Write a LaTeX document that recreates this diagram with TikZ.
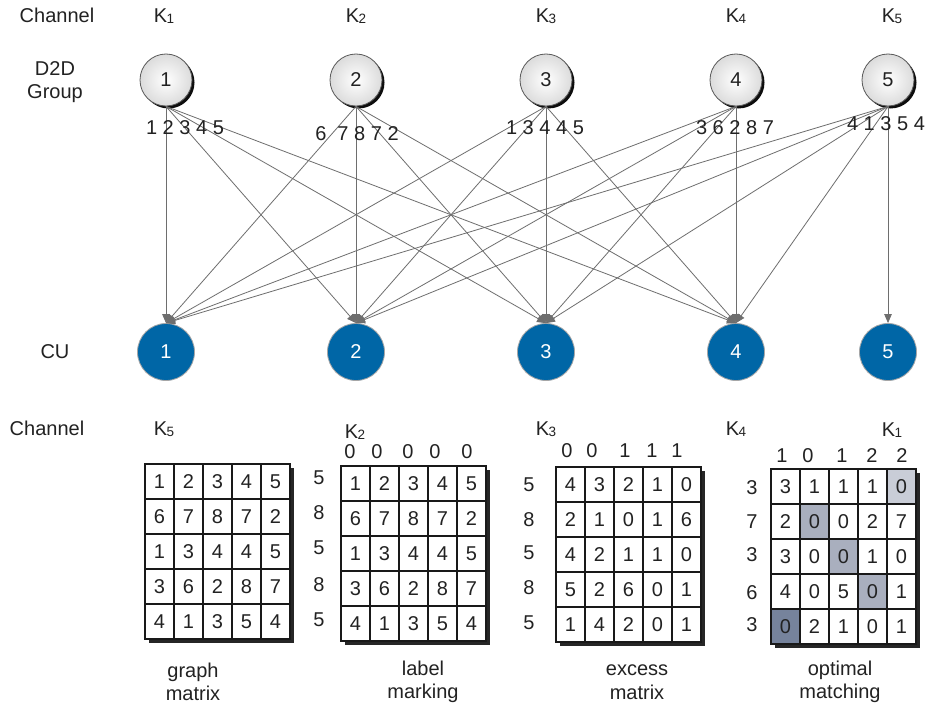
\documentclass[tikz,border=0pt]{standalone}
\usepackage{fontspec}
\setmainfont{Liberation Sans}
\usetikzlibrary{arrows.meta,shadows}
\definecolor{txt}{HTML}{222222}
\definecolor{cublue}{HTML}{0066A6}
\definecolor{edgegray}{HTML}{6E6E6E}
\definecolor{sa}{HTML}{C9CDD7}
\definecolor{sb}{HTML}{A9AFBE}
\definecolor{sc}{HTML}{76839C}
\colorlet{w}{white}
\newcommand{\mainfs}{\fontsize{20}{23.5}\selectfont}
\newcommand{\Kch}[1]{K\kern-0.5pt\raisebox{-1.5pt}{\fontsize{13.5}{13.5}\selectfont #1}}
\newcommand{\cellmatrix}[4]{%
  \fill[black!85] (#2+4,#3+4) rectangle (#2+149,#3+179);
  \foreach \row [count=\r] in {#4} {
    \foreach \v/\f [count=\c] in \row {
      \node[cell, fill=\f] (#1-\r-\c) at ({#2+(\c-0.5)*29},{#3+(\r-0.5)*35}) {\v};
    }
  }
}
\tikzset{
  lab/.style={font=\mainfs, text=txt, inner sep=0pt, align=center},
  d2d/.style={circle, minimum size=52pt, inner sep=0pt, draw=black!65, line width=0.8pt,
    inner color=white, outer color=black!14,
    drop shadow={shadow xshift=2.5pt, shadow yshift=-2.5pt, fill=black, opacity=0.95},
    font=\mainfs, text=txt},
  cu/.style={circle, minimum size=57pt, inner sep=0pt, fill=cublue, draw=black!35,
    line width=0.8pt, font=\mainfs, text=white},
  link/.style={draw=edgegray, line width=0.8pt, -{Triangle[length=9pt,width=7.5pt]}},
  cell/.style={draw=black!90, line width=1.2pt, minimum width=29pt, minimum height=35pt,
    inner sep=0pt, font=\mainfs, text=txt},
}
\begin{document}
\begin{tikzpicture}[x=1pt,y=-1pt]
\fill[white] (0,0) rectangle (929,709);
\useasboundingbox (0,0) rectangle (929,709);

% top labels
\node[lab] (ch1) at (57,15) {Channel};
\node[lab] (kt1) at (164,16) {\Kch{1}};
\node[lab] (kt2) at (356,16) {\Kch{2}};
\node[lab] (kt3) at (546,16) {\Kch{3}};
\node[lab] (kt4) at (736,16) {\Kch{4}};
\node[lab] (kt5) at (892,16) {\Kch{5}};
\node[lab] (dg) at (55,82) {D2D\\Group};
\node[lab] (cul) at (55,352) {CU};

% D2D nodes
\node[d2d] (d1) at (166,80) {1};
\node[d2d] (d2) at (356,80) {2};
\node[d2d] (d3) at (546,80) {3};
\node[d2d] (d4) at (736,80) {4};
\node[d2d] (d5) at (888,80) {5};

% CU nodes
\node[cu] (c1) at (166,352) {1};
\node[cu] (c2) at (356,352) {2};
\node[cu] (c3) at (546,352) {3};
\node[cu] (c4) at (736,352) {4};
\node[cu] (c5) at (888,352) {5};

% links
\foreach \i in {1,...,4}{
  \foreach \j in {1,...,4}{
    \draw[link] (d\i.south) -- (c\j.north);
  }
}
\foreach \j in {1,...,5}{
  \draw[link] (d5.south) -- (c\j.north);
}

% weight labels
\node[lab] (n1) at (185,128) {1 2 3 4 5};
\node[lab] (n2) at (357,134) {6\hspace{11pt}7 8 7 2};
\node[lab] (n3) at (545,128) {1 3 4 4 5};
\node[lab] (n4) at (735,128) {3 6 2 8 7};
\node[lab] (n5) at (886,124) {4 1 3 5 4};

% bottom labels
\node[lab] (ch2) at (47,428) {Channel};
\node[lab] (kb1) at (164,429) {\Kch{5}};
\node[lab] (kb2) at (355,432) {\Kch{2}};
\node[lab] (kb3) at (546,429) {\Kch{3}};
\node[lab] (kb4) at (736,429) {\Kch{4}};
\node[lab] (kb5) at (892,430) {\Kch{1}};

% matrices
\cellmatrix{g}{145}{464}{{1/w,2/w,3/w,4/w,5/w},{6/w,7/w,8/w,7/w,2/w},{1/w,3/w,4/w,4/w,5/w},{3/w,6/w,2/w,8/w,7/w},{4/w,1/w,3/w,5/w,4/w}}
\cellmatrix{l}{341}{466}{{1/w,2/w,3/w,4/w,5/w},{6/w,7/w,8/w,7/w,2/w},{1/w,3/w,4/w,4/w,5/w},{3/w,6/w,2/w,8/w,7/w},{4/w,1/w,3/w,5/w,4/w}}
\cellmatrix{e}{556}{467}{{4/w,3/w,2/w,1/w,0/w},{2/w,1/w,0/w,1/w,6/w},{4/w,2/w,1/w,1/w,0/w},{5/w,2/w,6/w,0/w,1/w},{1/w,4/w,2/w,0/w,1/w}}
\cellmatrix{o}{771}{469}{{3/w,1/w,1/w,1/w,0/sa},{2/w,0/sb,0/w,2/w,7/w},{3/w,0/w,0/sb,1/w,0/w},{4/w,0/w,5/w,0/sb,1/w},{0/sc,2/w,1/w,0/w,1/w}}

% label marking top/left
\foreach \x/\t [count=\k] in {350/0,377/0,408/0,435/0,467/0}
  \node[lab] (lt\k) at (\x,452) {\t};
\foreach \y/\t [count=\k] in {478/5,513/8,548/5,585/8,620/5}
  \node[lab] (ll\k) at (319,\y) {\t};
% excess top/left
\foreach \x/\t [count=\k] in {567/0,592/0,625/1,652/1,677/1}
  \node[lab] (et\k) at (\x,451) {\t};
\foreach \y/\t [count=\k] in {485/5,520/8,553/5,588/8,623/5}
  \node[lab] (el\k) at (529,\y) {\t};
% optimal top/left
\foreach \x/\t [count=\k] in {782/1,808/0,842/1,872/2,902/2}
  \node[lab] (ot\k) at (\x,456) {\t};
\foreach \y/\t [count=\k] in {488/3,522/7,555/3,593/6,625/3}
  \node[lab] (ol\k) at (752,\y) {\t};

% captions
\node[lab] (cap1) at (193,682) {graph\\matrix};
\node[lab] (cap2) at (423,682) {label\\marking};
\node[lab] (cap3) at (637,682) {excess\\matrix};
\node[lab] (cap4) at (840,682) {optimal\\matching};
\end{tikzpicture}
\end{document}
